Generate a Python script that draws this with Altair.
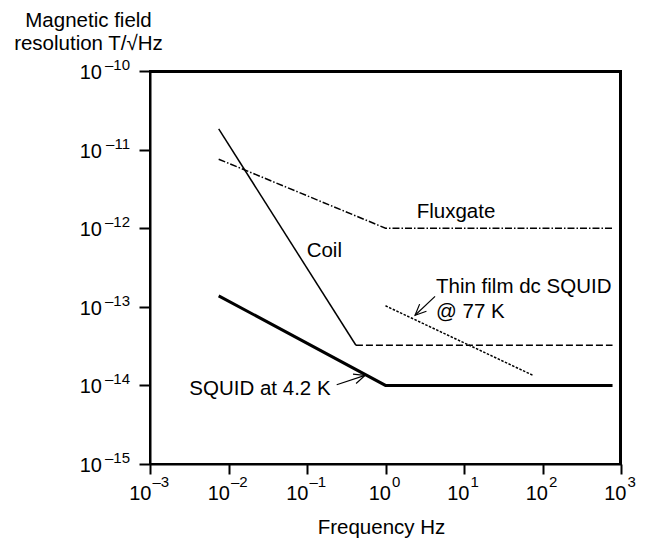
import altair as alt
import pandas as pd

# ---- data ----
coil_slope_f = [0.0075, 0.42]
coil_slope_b = [1.83e-11, 3.24e-14]
coil_flat_f = [0.42, 780]
coil_flat_b = [3.24e-14, 3.24e-14]
fluxgate_f = [0.0075, 1.0, 780]
fluxgate_b = [7.55e-12, 1.0e-12, 1.0e-12]
squid42_f = [0.0075, 1.0, 780]
squid42_b = [1.38e-13, 1.0e-14, 1.0e-14]
thinfilm_f = [1.0, 76]
thinfilm_b = [1.03e-13, 1.34e-14]

label_text = ["Fluxgate", "Coil", "Thin film dc SQUID", "@ 77 K", "SQUID at 4.2 K"]
label_f = [2.5, 0.099, 4.4, 4.4, 0.00317]
label_b = [1.35e-12, 4.3e-13, 1.52e-13, 7.3e-14, 7.6e-15]

arrow_f0 = [0.239, 4.28]
arrow_b0 = [1.02e-14, 1.355e-13]
arrow_f1 = [0.548, 2.38]
arrow_b1 = [1.34e-14, 7.8e-14]
arrow_angle = [341.8, 136.5]

x_domain = [1e-3, 1e3]
y_domain = [1e-15, 1e-10]
x_tick_values = [1e-3, 1e-2, 1e-1, 1e0, 1e1, 1e2, 1e3]
x_tick_exps = ["–3", "–2", "–1", "0", "1", "2", "3"]
y_tick_values = [1e-15, 1e-14, 1e-13, 1e-12, 1e-11, 1e-10]
y_tick_exps = ["–15", "–14", "–13", "–12", "–11", "–10"]

FONT = "Liberation Sans"
FS = 20.5
BASE_FS = 20
EXP_FS = 15
W, H = 471, 393

x_scale = alt.Scale(type="log", domain=x_domain, nice=False)
y_scale = alt.Scale(type="log", domain=y_domain, nice=False)

x_axis = alt.Axis(
    values=x_tick_values, labels=False, grid=False,
    tickSize=10, tickWidth=2, tickColor="black", domainColor="black", domainWidth=2,
    title="Frequency Hz", titleFont=FONT, titleFontSize=FS, titleFontWeight="normal",
    titleColor="black", titleAlign="center", titleBaseline="alphabetic",
    titleX=231, titleY=69,
)
y_axis = alt.Axis(
    values=y_tick_values, labels=False, grid=False,
    tickSize=11, tickWidth=2, tickColor="black", domainColor="black", domainWidth=2,
    title=["Magnetic field", "resolution T/√Hz"], titleFont=FONT, titleFontSize=FS,
    titleFontWeight="normal", titleColor="black", titleAngle=0, titleAlign="center",
    titleBaseline="alphabetic", titleX=-62, titleY=-45, titleLineHeight=23,
)


def X(field):
    return alt.X(field, type="quantitative", scale=x_scale, axis=x_axis)


def Y(field):
    return alt.Y(field, type="quantitative", scale=y_scale, axis=y_axis)


def line_layer(fs, bs, **style):
    df = pd.DataFrame({"f": fs, "b": bs, "o": list(range(len(fs)))})
    return alt.Chart(df).mark_line(color="black", clip=False, **style).encode(
        x=X("f"), y=Y("b"), order="o:Q"
    )


# frame: top and right borders of the plot box (just inside the box edge)
one = pd.DataFrame({"k": [0]})
frame_top = alt.Chart(one).mark_rule(color="black", strokeWidth=2, clip=False).encode(
    x=alt.value(0), x2=alt.value(W), y=alt.value(1)
)
frame_right = alt.Chart(one).mark_rule(color="black", strokeWidth=2, clip=False).encode(
    x=alt.value(W - 1), y=alt.value(0), y2=alt.value(H)
)

coil_slope = line_layer(coil_slope_f, coil_slope_b, strokeWidth=1.5)
coil_flat = line_layer(coil_flat_f, coil_flat_b, strokeWidth=1.5, strokeDash=[7, 3])
fluxgate = line_layer(fluxgate_f, fluxgate_b, strokeWidth=1.5, strokeDash=[7, 2, 1.5, 2])
squid42 = line_layer(squid42_f, squid42_b, strokeWidth=3)
thinfilm = line_layer(thinfilm_f, thinfilm_b, strokeWidth=1.5, strokeDash=[2.5, 1.5])

labels = alt.Chart(pd.DataFrame({"t": label_text, "f": label_f, "b": label_b})).mark_text(
    align="left", baseline="alphabetic", font=FONT, fontSize=FS, color="black"
).encode(x=X("f"), y=Y("b"), text="t:N")

arrows_df = pd.DataFrame({"f0": arrow_f0, "b0": arrow_b0, "f1": arrow_f1, "b1": arrow_b1,
                          "ang": arrow_angle})
arrow_lines = alt.Chart(arrows_df).mark_rule(color="black", strokeWidth=1.2).encode(
    x=X("f0"), x2="f1:Q", y=Y("b0"), y2="b1:Q"
)
arrow_heads = alt.Chart(arrows_df).mark_point(
    shape="M-1,-0.45L0,0L-1,0.45", filled=False, size=484, strokeWidth=1.2,
    color="black", opacity=1
).encode(x=X("f1"), y=Y("b1"), angle=alt.Angle("ang:Q", scale=None))

# ---- tick labels: "10" with a raised, smaller exponent ----
xt = pd.DataFrame({"v": x_tick_values, "e": x_tick_exps, "base": ["10"] * len(x_tick_values)})
xt_neg = xt[xt["e"].str.startswith("–")]
xt_pos = xt[~xt["e"].str.startswith("–")]


def x_tick_text(df, base_dx, exp_dx):
    base = alt.Chart(df).mark_text(
        align="right", baseline="alphabetic", font=FONT, fontSize=BASE_FS, color="black",
        dx=base_dx
    ).encode(x=X("v"), y=alt.value(H + 36), text="base:N")
    expo = alt.Chart(df).mark_text(
        align="left", baseline="alphabetic", font=FONT, fontSize=EXP_FS, color="black",
        dx=exp_dx
    ).encode(x=X("v"), y=alt.value(H + 23), text="e:N")
    return [base, expo]


yt = pd.DataFrame({"v": y_tick_values, "e": y_tick_exps, "base": ["10"] * len(y_tick_values)})
y_base = alt.Chart(yt).mark_text(
    align="right", baseline="alphabetic", font=FONT, fontSize=BASE_FS, color="black", dy=8
).encode(x=alt.value(-48), y=Y("v"), text="base:N")
y_exp = alt.Chart(yt).mark_text(
    align="right", baseline="alphabetic", font=FONT, fontSize=EXP_FS, color="black", dy=-1
).encode(x=alt.value(-20), y=Y("v"), text="e:N")

layers = [frame_top, frame_right, fluxgate, coil_slope, coil_flat, thinfilm, squid42, labels,
          arrow_lines, arrow_heads, y_base, y_exp]
layers += x_tick_text(xt_neg, 1.5, 2.5)
layers += x_tick_text(xt_pos, 5.5, 6.5)

chart = alt.layer(*layers).properties(
    width=W, height=H,
    autosize=alt.AutoSizeParams(type="none"),
    padding={"left": 142, "top": 63, "right": 17, "bottom": 80},
).configure_view(stroke="black", strokeWidth=2)

chart.save("out.html", embed_options={"renderer": "svg", "actions": False})
